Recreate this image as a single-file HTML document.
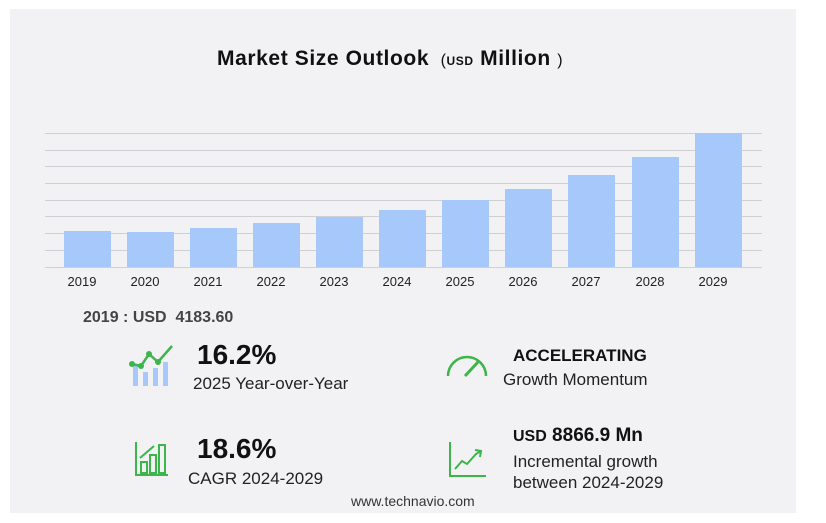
<!DOCTYPE html>
<html><head><style>
body{margin:0;width:826px;height:523px;background:#fff;font-family:"Liberation Sans",sans-serif;position:relative;overflow:hidden}
.p{position:absolute;left:10px;top:9px;width:786px;height:504px;background:#f2f2f4}
.t{position:absolute;white-space:nowrap;color:#111}
</style></head><body>
<div class="p"></div>
<div class="t" style="left:217px;top:47px;font-size:21px;font-weight:bold;letter-spacing:0.6px">Market Size Outlook <span style="font-size:16px;font-weight:normal">&nbsp;(</span><span style="font-size:12px;font-weight:bold">USD</span> Million <span style="font-size:16px;font-weight:normal">)</span></div>
<svg style="position:absolute;left:0;top:0" width="826" height="300">
<g stroke="#d0d0d4" stroke-width="1">
<line x1="45" x2="762" y1="133.5" y2="133.5"/><line x1="45" x2="762" y1="150.5" y2="150.5"/><line x1="45" x2="762" y1="166.5" y2="166.5"/><line x1="45" x2="762" y1="183.5" y2="183.5"/><line x1="45" x2="762" y1="200.5" y2="200.5"/><line x1="45" x2="762" y1="216.5" y2="216.5"/><line x1="45" x2="762" y1="233.5" y2="233.5"/><line x1="45" x2="762" y1="250.5" y2="250.5"/><line x1="45" x2="762" y1="267.5" y2="267.5"/>
</g>
<g fill="#a7c8fb">
<rect x="64" y="231" width="47" height="36"/><rect x="127" y="232" width="47" height="35"/><rect x="190" y="228" width="47" height="39"/><rect x="253" y="223" width="47" height="44"/><rect x="316" y="217" width="47" height="50"/><rect x="379" y="210" width="47" height="57"/><rect x="442" y="200" width="47" height="67"/><rect x="505" y="189" width="47" height="78"/><rect x="568" y="175" width="47" height="92"/><rect x="632" y="157" width="47" height="110"/><rect x="695" y="133" width="47" height="134"/>
</g>
<g font-family="Liberation Sans" font-size="13" fill="#222" text-anchor="middle">
<text x="82" y="286">2019</text><text x="145" y="286">2020</text><text x="208" y="286">2021</text><text x="271" y="286">2022</text><text x="334" y="286">2023</text><text x="397" y="286">2024</text><text x="460" y="286">2025</text><text x="523" y="286">2026</text><text x="586" y="286">2027</text><text x="650" y="286">2028</text><text x="713" y="286">2029</text>
</g>
</svg>
<div class="t" style="left:83px;top:309px;font-size:16px;font-weight:bold;color:#444">2019 : USD&nbsp; 4183.60</div>
<svg style="position:absolute;left:128px;top:342px" width="52" height="46">
<g fill="#a7c8fb"><rect x="5" y="22" width="5" height="22"/><rect x="15" y="30" width="5" height="14"/><rect x="25" y="26" width="5" height="18"/><rect x="35" y="20" width="5" height="24"/></g>
<polyline points="4,22 13,24 21,12 30,20 44,4" fill="none" stroke="#3cb54a" stroke-width="2.5"/>
<g fill="#3cb54a"><circle cx="4" cy="22" r="3"/><circle cx="13" cy="24" r="3"/><circle cx="21" cy="12" r="3"/><circle cx="30" cy="20" r="3"/></g>
</svg>
<div class="t" style="left:197px;top:339px;font-size:28px;font-weight:bold">16.2%</div>
<div class="t" style="left:193px;top:374px;font-size:17px;color:#222">2025 Year-over-Year</div>
<svg style="position:absolute;left:445px;top:350px" width="44" height="30">
<path d="M3,26 A19,19 0 0 1 41,26" fill="none" stroke="#3cb54a" stroke-width="2.5"/>
<line x1="20" y1="26" x2="33" y2="12" stroke="#3cb54a" stroke-width="3"/>
</svg>
<div class="t" style="left:513px;top:346px;font-size:17px;font-weight:bold">ACCELERATING</div>
<div class="t" style="left:503px;top:370px;font-size:17px;color:#222">Growth Momentum</div>
<svg style="position:absolute;left:134px;top:440px" width="36" height="38">
<g fill="none" stroke="#3cb54a" stroke-width="2"><polyline points="2,2 2,35 34,35"/><rect x="7" y="22" width="6" height="11"/><rect x="16" y="15" width="6" height="18"/><rect x="25" y="5" width="6" height="28"/><polyline points="6,18 20,6"/></g>
</svg>
<div class="t" style="left:197px;top:433px;font-size:28px;font-weight:bold">18.6%</div>
<div class="t" style="left:188px;top:469px;font-size:17px;color:#222">CAGR 2024-2029</div>
<svg style="position:absolute;left:448px;top:442px" width="40" height="36">
<g fill="none" stroke="#3cb54a" stroke-width="2"><polyline points="2,0 2,34 38,34"/><polyline points="7,27 14,19 19,22 28,12 33,9"/><polyline points="27,8 33,9 32,15"/></g>
</svg>
<div class="t" style="left:513px;top:425px;font-size:19px;font-weight:bold"><span style="font-size:16px">USD</span> 8866.9 Mn</div>
<div class="t" style="left:513px;top:452px;font-size:17px;color:#222">Incremental growth</div>
<div class="t" style="left:513px;top:473px;font-size:17px;color:#222">between 2024-2029</div>
<div class="t" style="left:351px;top:493px;font-size:14px;color:#333">www.technavio.com</div>
</body></html>
